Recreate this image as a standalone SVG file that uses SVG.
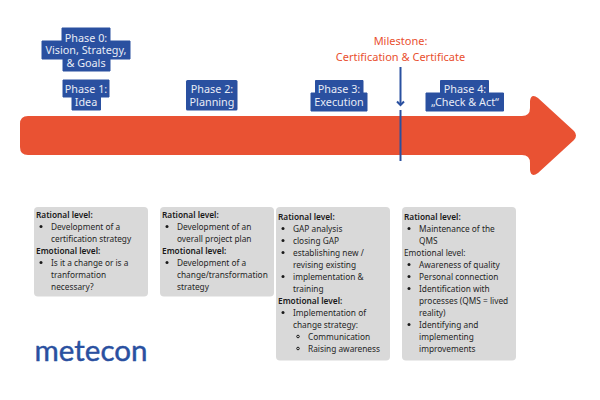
<svg xmlns="http://www.w3.org/2000/svg" width="600" height="400" viewBox="0 0 600 400">
<style>
text{font-family:"Noto Sans","Open Sans","Liberation Sans",sans-serif}
.p{fill:#2a50a0}
.pt{fill:#e8ecf6;font-size:10.8px;text-anchor:middle}
.m{fill:#e9502f;font-size:11px;text-anchor:middle}
.b{fill:#d9d9d9}
.t{fill:#262626;font-size:8.3px}
.h{font-weight:600;fill:#1a1a1a}
.d{fill:#1a1a1a}
.o{fill:none;stroke:#1a1a1a;stroke-width:1}
</style>
<rect width="600" height="400" fill="#fff"/>
<g id="arrow"><path d="M28 116H522Q530 116 530 108V101Q531 93 538 98L574 131Q578 135.500 574 140L538 173Q531 178 530 170V163Q530 155 522 155H28Q20 155 20 147V124Q20 116 28 116Z" fill="#e95233"/></g>
<g id="phase0"><path class="p" d="M62 28H110V41H130V59H110V71H63V59H42V41H62Z" stroke="#2a50a0" stroke-width="1" stroke-linejoin="round"/>
<text class="pt" x="86" y="41.500">Phase 0:</text><text class="pt" x="86" y="54">Vision, Strategy,</text><text class="pt" x="86" y="66.500">&amp; Goals</text></g>
<g id="phase1"><path class="p" d="M63 80H109V97H100.500V110H72V97H63Z" stroke="#2a50a0" stroke-width="1" stroke-linejoin="round"/>
<text class="pt" x="86" y="93">Phase 1:</text><text class="pt" x="86" y="105.500">Idea</text></g>
<g id="phase2"><rect class="p" x="186" y="80" width="51.500" height="30.500" rx="1.500"/>
<text class="pt" x="212" y="93">Phase 2:</text><text class="pt" x="212" y="105.500">Planning</text></g>
<g id="phase3"><path class="p" d="M315.500 80.500H363V93H367V111H311V93H315.500Z" stroke="#2a50a0" stroke-width="1" stroke-linejoin="round"/>
<text class="pt" x="339" y="93">Phase 3:</text><text class="pt" x="339" y="106">Execution</text></g>
<g id="phase4"><path class="p" d="M440.500 80.500H488.500V93H503.500V111H426V93H440.500Z" stroke="#2a50a0" stroke-width="1" stroke-linejoin="round"/>
<text class="pt" x="465" y="93">Phase 4:</text><text class="pt" x="465" y="106">„Check &amp; Act“</text></g>
<g id="milestone"><text class="m" x="400.500" y="45">Milestone:</text><text class="m" x="400.500" y="60.500">Certification &amp; Certificate</text></g>
<g id="connectors" fill="none" stroke="#2a50a0" stroke-width="2"><path d="M400.500 67V105"/><path d="M397 101.500L400.500 105L404 101.500"/><path d="M400.500 110V161"/></g>
<g id="card1"><rect class="b" x="34" y="207" width="114" height="89.500" rx="4"/>
<text class="t h" x="36" y="218">Rational level:</text>
<circle class="d" cx="41" cy="226.500" r="1.500"/><text class="t" x="51" y="230">Development of a</text><text class="t" x="51" y="242">certification strategy</text>
<text class="t h" x="36" y="254">Emotional level:</text>
<circle class="d" cx="41" cy="262.500" r="1.500"/><text class="t" x="51" y="266">Is it a change or is a</text><text class="t" x="51" y="278">tranformation</text><text class="t" x="51" y="290">necessary?</text></g>
<g id="card2"><rect class="b" x="160" y="207" width="114" height="89.500" rx="4"/>
<text class="t h" x="162" y="218">Rational level:</text>
<circle class="d" cx="167" cy="226.500" r="1.500"/><text class="t" x="177" y="230">Development of an</text><text class="t" x="177" y="242">overall project plan</text>
<text class="t h" x="162" y="254">Emotional level:</text>
<circle class="d" cx="167" cy="262.500" r="1.500"/><text class="t" x="177" y="266">Development of a</text><text class="t" x="177" y="278">change/transformation</text><text class="t" x="177" y="290">strategy</text></g>
<g id="card3"><rect class="b" x="276" y="207" width="114" height="153.500" rx="4"/>
<text class="t h" x="278" y="220">Rational level:</text>
<circle class="d" cx="283" cy="228.500" r="1.500"/><text class="t" x="293" y="232">GAP analysis</text>
<circle class="d" cx="283" cy="240.500" r="1.500"/><text class="t" x="293" y="244">closing GAP</text>
<circle class="d" cx="283" cy="252.500" r="1.500"/><text class="t" x="293" y="256">establishing new /</text><text class="t" x="293" y="268">revising existing</text>
<circle class="d" cx="283" cy="276.500" r="1.500"/><text class="t" x="293" y="280">implementation &amp;</text><text class="t" x="293" y="292">training</text>
<text class="t h" x="278" y="304">Emotional level:</text>
<circle class="d" cx="283" cy="312.500" r="1.500"/><text class="t" x="293" y="316">Implementation of</text><text class="t" x="293" y="328">change strategy:</text>
<circle class="o" cx="298" cy="336.500" r="1.300"/><text class="t" x="308" y="340">Communication</text>
<circle class="o" cx="298" cy="348.500" r="1.300"/><text class="t" x="308" y="352">Raising awareness</text></g>
<g id="card4"><rect class="b" x="402" y="207" width="114" height="153.500" rx="4"/>
<text class="t h" x="404" y="220">Rational level:</text>
<circle class="d" cx="409" cy="228.500" r="1.500"/><text class="t" x="419" y="232">Maintenance of the</text><text class="t" x="419" y="244">QMS</text>
<text class="t" x="404" y="256">Emotional level:</text>
<circle class="d" cx="409" cy="264.500" r="1.500"/><text class="t" x="419" y="268">Awareness of quality</text>
<circle class="d" cx="409" cy="276.500" r="1.500"/><text class="t" x="419" y="280">Personal connection</text>
<circle class="d" cx="409" cy="288.500" r="1.500"/><text class="t" x="419" y="292">Identification with</text><text class="t" x="419" y="304">processes (QMS = lived</text><text class="t" x="419" y="316">reality)</text>
<circle class="d" cx="409" cy="324.500" r="1.500"/><text class="t" x="419" y="328">Identifying and</text><text class="t" x="419" y="340">implementing</text><text class="t" x="419" y="352">improvements</text></g>
<g id="logo"><text x="34.500" y="360.800" font-size="28" fill="#2a50a0" stroke="#2a50a0" stroke-width=".4" textLength="113" lengthAdjust="spacingAndGlyphs" style="font-family:Lato,sans-serif">metecon</text></g>
</svg>
